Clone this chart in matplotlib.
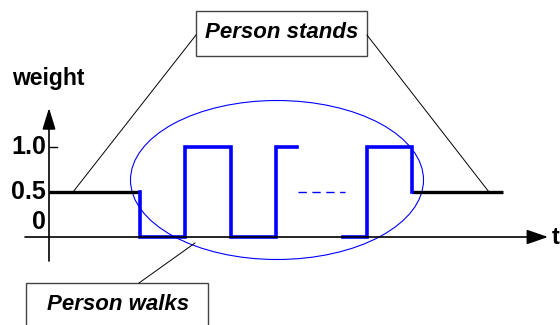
import matplotlib.pyplot as plt
from matplotlib.patches import Ellipse, Rectangle

# step signal (time in px-like units, weight 0..1)
stand_t1 = [49, 140]
stand_w1 = [0.5, 0.5]
walk_t = [140, 140, 185, 185, 231, 231, 276, 276, 297]
walk_w = [0.5, 0.0, 0.0, 1.0, 1.0, 0.0, 0.0, 1.0, 1.0]
dash_t = [298, 345]
dash_w = [0.5, 0.5]
walk2_t = [343, 367, 367, 412, 412]
walk2_w = [0.0, 0.0, 1.0, 1.0, 0.5]
stand_t2 = [412, 503]
stand_w2 = [0.5, 0.5]

tick_vals = [1.0, 0.5, 0.0]
tick_labels = ["1.0", "0.5", "0"]

BLUE = "#0000ff"
FONT = "Liberation Sans"

fig = plt.figure(figsize=(5.6, 3.25), dpi=100)
ax = fig.add_axes([0, 0, 1, 1])
ax.set_xlim(0, 560)
# weight 0 -> 237 px from top, 1.0 -> 147 px
px = 90.0
ax.set_ylim(-(325 - 237) / px, 237 / px)
ax.axis("off")

def wy(pix):
    return (237 - pix) / px

# axes with arrows
ax.annotate("", xy=(548, 0), xytext=(25, 0),
            arrowprops=dict(arrowstyle="-|>,head_length=1.3,head_width=0.45",
                            lw=1.2, color="black", shrinkA=0, shrinkB=0))
ax.annotate("", xy=(49, wy(108)), xytext=(49, wy(261)),
            arrowprops=dict(arrowstyle="-|>,head_length=1.3,head_width=0.4",
                            lw=1.2, color="black", shrinkA=0, shrinkB=0))
ax.plot([49, 57], [1.0, 1.0], color="black", lw=1.0)

ax.text(552, 0, "t", fontsize=17, fontweight="bold", family=FONT,
        ha="left", va="center")
ax.text(12, wy(78), "weight", fontsize=16.5, fontweight="bold", family=FONT,
        ha="left", va="center")
for v, lab in zip(tick_vals, tick_labels):
    yy = v if v > 0 else wy(222)
    ax.text(46, yy, lab, fontsize=18, fontweight="bold", family=FONT,
            ha="right", va="center")

# signal
ax.plot(stand_t1, stand_w1, color="black", lw=2.4, solid_capstyle="butt")
ax.plot(stand_t2, stand_w2, color="black", lw=2.4, solid_capstyle="butt")
ax.plot(walk_t, walk_w, color=BLUE, lw=2.6, solid_joinstyle="miter")
ax.plot(walk2_t, walk2_w, color=BLUE, lw=2.6, solid_joinstyle="miter")
ax.plot(dash_t, dash_w, color=BLUE, lw=1.0, ls=(0, (6, 4)))

# ellipse around walking part
ax.add_patch(Ellipse((277, wy(180)), 293, 159 / px, fill=False,
                     edgecolor=BLUE, lw=0.8))

# callout boxes
ax.add_patch(Rectangle((196, wy(56)), 171, 45 / px, fill=False,
                       edgecolor="#444444", lw=1.0))
ax.text(281.5, wy(33), "Person stands", fontsize=16, fontweight="bold",
        style="italic", family=FONT, ha="center", va="center")
ax.plot([196, 73], [wy(35), 0.5], color="black", lw=0.7)
ax.plot([367, 489], [wy(35), 0.5], color="black", lw=0.7)

ax.add_patch(Rectangle((26, wy(340)), 182, 57 / px, fill=False,
                       edgecolor="#444444", lw=1.0, clip_on=True))
ax.text(118, wy(304), "Person walks", fontsize=16, fontweight="bold",
        style="italic", family=FONT, ha="center", va="center")
ax.plot([139, 195], [wy(283), wy(243)], color="black", lw=0.7)

fig.savefig("out.png", dpi=100)
